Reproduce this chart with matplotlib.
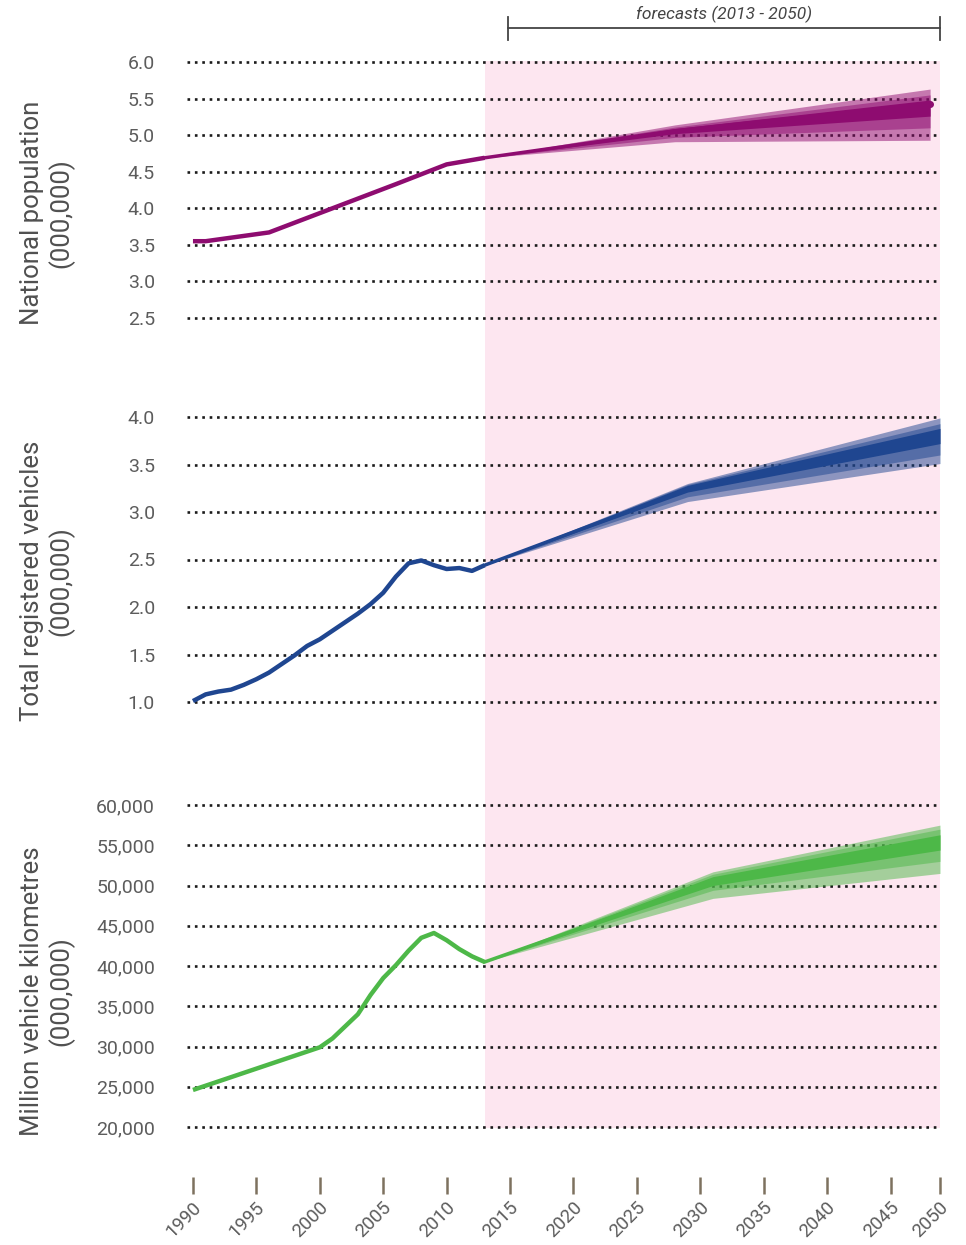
import numpy as np
import matplotlib
matplotlib.use("Agg")
import matplotlib.pyplot as plt
import matplotlib.transforms as mtransforms

plt.rcParams['font.family'] = ['Roboto', 'DejaVu Sans']

# ---- data ----
pop_years = [1990, 1991, 1996, 2001, 2006, 2010, 2013]
pop_vals = [3.55, 3.55, 3.67, 4.00, 4.33, 4.60, 4.69]
pop_fc_years = [2013, 2028, 2049]
pop_fc_mid = [4.69, 5.06, 5.43]
pop_fc_dark = ([4.69, 5.02, 5.26], [4.69, 5.09, 5.48])
pop_fc_med = ([4.69, 4.97, 5.10], [4.69, 5.11, 5.55])
pop_fc_light = ([4.69, 4.91, 4.93], [4.69, 5.14, 5.63])

veh_years = list(range(1990, 2014))
veh_vals = [1.01, 1.08, 1.11, 1.13, 1.18, 1.24, 1.31, 1.40, 1.49, 1.59, 1.66, 1.75,
            1.84, 1.93, 2.03, 2.15, 2.32, 2.46, 2.49, 2.44, 2.40, 2.41, 2.38, 2.44]
veh_fc_years = [2013, 2029, 2050]
veh_fc_mid = [2.44, 3.24, 3.80]
veh_fc_dark = ([2.44, 3.21, 3.72], [2.44, 3.28, 3.88])
veh_fc_med = ([2.44, 3.16, 3.60], [2.44, 3.29, 3.93])
veh_fc_light = ([2.44, 3.11, 3.51], [2.44, 3.30, 3.99])

vkt_years = [1990, 2000, 2001, 2002, 2003, 2004, 2005, 2006, 2007, 2008, 2009, 2010,
             2011, 2012, 2013]
vkt_vals = [24600, 29900, 31000, 32500, 34000, 36400, 38500, 40100, 41900, 43500,
            44100, 43200, 42100, 41200, 40500]
vkt_fc_years = [2013, 2031, 2050]
vkt_fc_mid = [40500, 50500, 55300]
vkt_fc_dark = ([40500, 50000, 54400], [40500, 51100, 56300])
vkt_fc_med = ([40500, 49400, 53000], [40500, 51400, 57000])
vkt_fc_light = ([40500, 48400, 51500], [40500, 51700, 57500])

xtick_years = [1990, 1995, 2000, 2005, 2010, 2015, 2020, 2025, 2030, 2035, 2040, 2045, 2050]
forecast_start = 2013
forecast_end = 2050

# ---- layout helpers ----
W, H = 966, 1245
fig = plt.figure(figsize=(W / 100, H / 100), dpi=100)


def rect(top, bottom, left=187, right=940):
    return [left / W, 1 - bottom / H, (right - left) / W, (bottom - top) / H]


# the last 5 years are drawn squeezed, as in the original
def fwd(x):
    x = np.asarray(x, float)
    return np.where(x <= 2045, x, 2045 + (x - 2045) * 0.78)


def inv(y):
    y = np.asarray(y, float)
    return np.where(y <= 2045, y, 2045 + (y - 2045) / 0.78)


XLIM = (1989.53, 2050)

bg = fig.add_axes(rect(61, 1128))
bg.set_xscale('function', functions=(fwd, inv))
bg.set_xlim(*XLIM)
bg.axvspan(forecast_start, forecast_end, color='#fde6f0', lw=0)
bg.axis('off')

label_col = '#5c5c5c'
grid_ls = (0, (1, 1.8))


def panel(top, bottom, y0, y1, px_top, px_bot, ticks, fmt, color, years, vals,
          fy, fmid, fdark, fmed, flight):
    ax = fig.add_axes(rect(top, bottom))
    ax.set_facecolor('none')
    ax.set_xscale('function', functions=(fwd, inv))
    ax.set_xlim(*XLIM)
    # y limits so that y1 sits at px_top and y0 at px_bot
    per_px = (y1 - y0) / (px_bot - px_top)
    ax.set_ylim(y0 - (bottom - px_bot) * per_px, y1 + (px_top - top) * per_px)
    ax.set_yticks(ticks)
    ax.set_yticklabels([fmt(t) for t in ticks])
    ax.tick_params(axis='y', length=0, pad=23, labelsize=14, labelcolor=label_col)
    for s in ax.spines.values():
        s.set_visible(False)
    ax.grid(axis='y', color='#1a1a1a', linewidth=1.9, linestyle=grid_ls)
    ax.set_axisbelow(True)
    ax.set_xticks(xtick_years)
    ax.tick_params(axis='x', bottom=False, labelbottom=False)

    ax.fill_between(fy, flight[0], flight[1], color=color, alpha=0.5, lw=0)
    ax.fill_between(fy, fmed[0], fmed[1], color=color, alpha=0.5, lw=0)
    ax.fill_between(fy, fdark[0], fdark[1], color=color, lw=0)
    ax.plot(years, vals, color=color, lw=3.2, solid_capstyle='butt')
    ax.plot(fy, fmid, color=color, lw=2.5)
    return ax


ax1 = panel(52, 328, 2.5, 6.0, 62, 318, [2.5, 3.0, 3.5, 4.0, 4.5, 5.0, 5.5, 6.0],
            lambda t: f"{t:.1f}", '#8e0c70', pop_years, pop_vals,
            pop_fc_years, pop_fc_mid, pop_fc_dark, pop_fc_med, pop_fc_light)
ax1.plot(pop_fc_years[-1], pop_fc_mid[-1], 'o', color='#8e0c70', ms=4)

ax2 = panel(407, 712, 1.0, 4.0, 417, 702, [1.0, 1.5, 2.0, 2.5, 3.0, 3.5, 4.0],
            lambda t: f"{t:.1f}", '#1f4690', veh_years, veh_vals,
            veh_fc_years, veh_fc_mid, veh_fc_dark, veh_fc_med, veh_fc_light)

ax3 = panel(795, 1137, 20000, 60000, 805, 1127, list(range(20000, 60001, 5000)),
            lambda t: f"{t:,.0f}", '#4db848', vkt_years, vkt_vals,
            vkt_fc_years, vkt_fc_mid, vkt_fc_dark, vkt_fc_med, vkt_fc_light)

# separated year ticks under the last panel
ax3.spines['bottom'].set_position(('outward', 29))
ax3.tick_params(axis='x', bottom=True, labelbottom=True, direction='out', length=12.2,
                width=1.8, color='#7d715f', pad=3, labelsize=13.5, labelcolor=label_col)
ax3.set_xticklabels([str(y) for y in xtick_years], rotation=45, ha='right')
offset = mtransforms.ScaledTranslation(0.12, 0, fig.dpi_scale_trans)
for lab in ax3.get_xticklabels():
    lab.set_transform(lab.get_transform() + offset)

# y axis titles
ylabels = [("National population\n(000,000)", 213),
           ("Total registered vehicles\n(000,000)", 581),
           ("Million vehicle kilometres\n(000,000)", 991)]
for txt, ypx in ylabels:
    fig.text(47 / W, 1 - ypx / H, txt, rotation=90, ha='center', va='center',
             fontsize=18.5, color='#505050', linespacing=1.15, multialignment='center')

# forecast bracket
bracket_start = 2014.8
trans = mtransforms.blended_transform_factory(bg.transData, fig.transFigure)
yb = 1 - 28 / H
fig.add_artist(plt.Line2D([bracket_start, forecast_end], [yb, yb], transform=trans,
                          color='#444444', lw=1.3))
for xb in (bracket_start, forecast_end):
    fig.add_artist(plt.Line2D([xb, xb], [1 - 17 / H, 1 - 40 / H], transform=trans,
                              color='#444444', lw=1.3))
fig.text(724 / W, 1 - 14 / H, "forecasts (2013 - 2050)", ha='center', va='center',
         fontsize=12.5, style='italic', color='#444444')

fig.savefig("out.png", dpi=100)
